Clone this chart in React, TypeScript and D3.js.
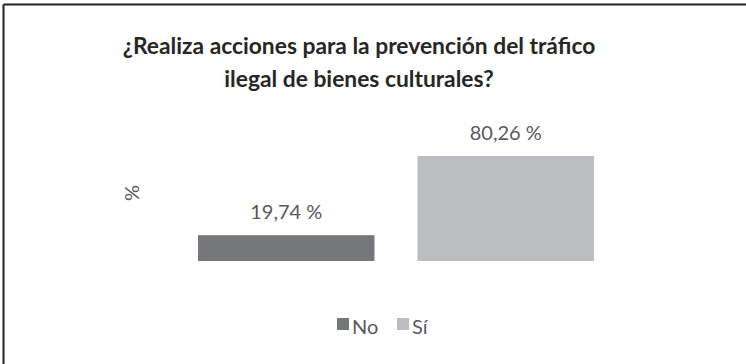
import React from "react";
import * as d3 from "d3";

const categories = ["No", "Sí"];
const values = [19.74, 80.26];
const valueLabels = ["19,74 %", "80,26 %"];
const colors = ["#76777b", "#bcbdc0"];
const titleLines = ["¿Realiza acciones para la prevención del tráfico", "ilegal de bienes culturales?"];
const axisLabel = "%";

export default function App() {
  const W = 746, H = 364;
  const x = d3.scaleBand<string>().domain(categories).range([155, 637]).paddingInner(0.196).paddingOuter(0.196);
  const y = d3.scaleLinear().domain([0, 100]).range([261, 130.2]);
  const font = "Lato, 'Open Sans', sans-serif";
  return (
    <svg width={W} height={H} style={{ position: "absolute", left: 0, top: 0, background: "#fff" }} fontFamily={font}>
      <rect x={0} y={0} width={W} height={H} fill="#fff" />
      <line x1={3.5} y1={4.5} x2={W} y2={4.5} stroke="#222" strokeWidth={2} />
      <line x1={3.5} y1={4.5} x2={3.5} y2={H} stroke="#222" strokeWidth={2} />
      {titleLines.map((t, i) => (
        <text key={i} x={359} y={54 + i * 33} textAnchor="middle" fontSize={22.8} fontWeight="bold" fill="#262626">{t}</text>
      ))}
      <text transform="translate(139,193) rotate(-90)" textAnchor="middle" fontSize={20} fill="#595959">{axisLabel}</text>
      {categories.map((c, i) => (
        <g key={c}>
          <rect x={x(c)} y={y(values[i])} width={x.bandwidth()} height={y(0) - y(values[i])} fill={colors[i]} />
          <text x={(x(c) as number) + x.bandwidth() / 2} y={y(values[i]) - 16} textAnchor="middle" fontSize={20} fill="#595959">{valueLabels[i]}</text>
        </g>
      ))}
      {categories.map((c, i) => {
        const lx = [337, 397][i];
        return (
          <g key={"l" + c}>
            <rect x={lx} y={318} width={12} height={12} fill={colors[i]} />
            <text x={lx + 15} y={334} fontSize={20} fill="#595959">{c}</text>
          </g>
        );
      })}
    </svg>
  );
}
